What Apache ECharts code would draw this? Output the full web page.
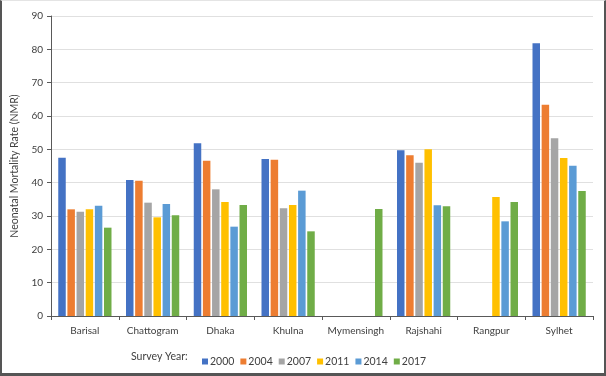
<!DOCTYPE html>
<html>
<head>
<meta charset="utf-8">
<script src="https://cdn.jsdelivr.net/npm/echarts@6/dist/echarts.min.js"></script>
<style>
    body { margin: 0; background: #fff; }
    #wrap { position: relative; width: 606px; height: 376px; }
    #chart { position: absolute; left: 0; top: 0; width: 606px; height: 376px; }
    #frame {
        position: absolute; left: 0; top: 0; width: 606px; height: 376px;
        box-sizing: border-box; pointer-events: none;
        border-left: 2px solid #555; border-right: 2px solid #555;
        border-bottom: 3px solid #555; border-top: 1px solid #e4e4e4;
    }
</style>
</head>
<body>
<div id="wrap">
    <div id="chart"></div>
    <div id="frame"></div>
</div>
<script>
// divisions and survey years
const divisions = ['Barisal', 'Chattogram', 'Dhaka', 'Khulna', 'Mymensingh', 'Rajshahi', 'Rangpur', 'Sylhet'];
const years = ['2000', '2004', '2007', '2011', '2014', '2017'];
const colors = ['#4472c4', '#ed7d31', '#a5a5a5', '#ffc000', '#5b9bd5', '#70ad47'];

// NMR per division, one array per survey year (null = no survey)
const nmr2000 = [47.5, 40.8, 51.8, 47.1, null, 49.7, null, 81.8];
const nmr2004 = [32.0, 40.6, 46.6, 46.9, null, 48.2, null, 63.4];
const nmr2007 = [31.3, 34.0, 38.0, 32.3, null, 46.0, null, 53.3];
const nmr2011 = [32.0, 29.6, 34.2, 33.3, null, 50.0, 35.7, 47.4];
const nmr2014 = [33.1, 33.6, 26.8, 37.6, null, 33.2, 28.4, 45.1];
const nmr2017 = [26.5, 30.2, 33.3, 25.4, 32.1, 32.9, 34.2, 37.5];
const allSeries = [nmr2000, nmr2004, nmr2007, nmr2011, nmr2014, nmr2017];

const yTicks = [0, 10, 20, 30, 40, 50, 60, 70, 80, 90];

var chart = echarts.init(document.getElementById('chart'));

const font = 'Lato, "Open Sans", sans-serif';

const series = [];
years.forEach((yr, i) => {
    series.push({
        name: yr,
        type: 'bar',
        data: allSeries[i],
        barWidth: 7.5,
        barGap: '22%',
        itemStyle: { color: colors[i] }
    });
});

var option = {
    animation: false,
    textStyle: { fontFamily: font },
    grid: { left: 51, right: 13, top: 16, bottom: 60, containLabel: false },
    legend: {
        data: years,
        left: 197,
        top: 351,
        itemWidth: 6,
        itemHeight: 6,
        itemGap: 6,
        icon: 'rect',
        textStyle: { fontSize: 10.5, color: '#404040', fontFamily: font, padding: [0, 0, 0, -3] }
    },
    graphic: [{
        type: 'text',
        left: 131,
        top: 351,
        style: { text: 'Survey Year:', fontSize: 10.5, fill: '#404040', fontFamily: font }
    }],
    xAxis: {
        type: 'category',
        data: divisions,
        axisLine: { lineStyle: { color: '#595959', width: 1 } },
        axisTick: { show: true, alignWithLabel: false, length: 4, lineStyle: { color: '#595959' } },
        axisLabel: { interval: 0, fontSize: 10, color: '#404040', margin: 10 }
    },
    yAxis: {
        type: 'value',
        min: yTicks[0],
        max: yTicks[yTicks.length - 1],
        interval: 10,
        name: 'Neonatal Mortality Rate (NMR)',
        nameLocation: 'middle',
        nameGap: 31,
        nameTextStyle: { fontSize: 10.5, color: '#404040' },
        axisLine: { show: true, lineStyle: { color: '#595959' } },
        axisTick: { show: true, length: 4, inside: false, lineStyle: { color: '#595959' } },
        axisLabel: { fontSize: 10, color: '#404040', margin: 8 },
        splitLine: { lineStyle: { color: '#e0e0e0', width: 1 } }
    },
    series: series
};

chart.setOption(option);
</script>
</body>
</html>
